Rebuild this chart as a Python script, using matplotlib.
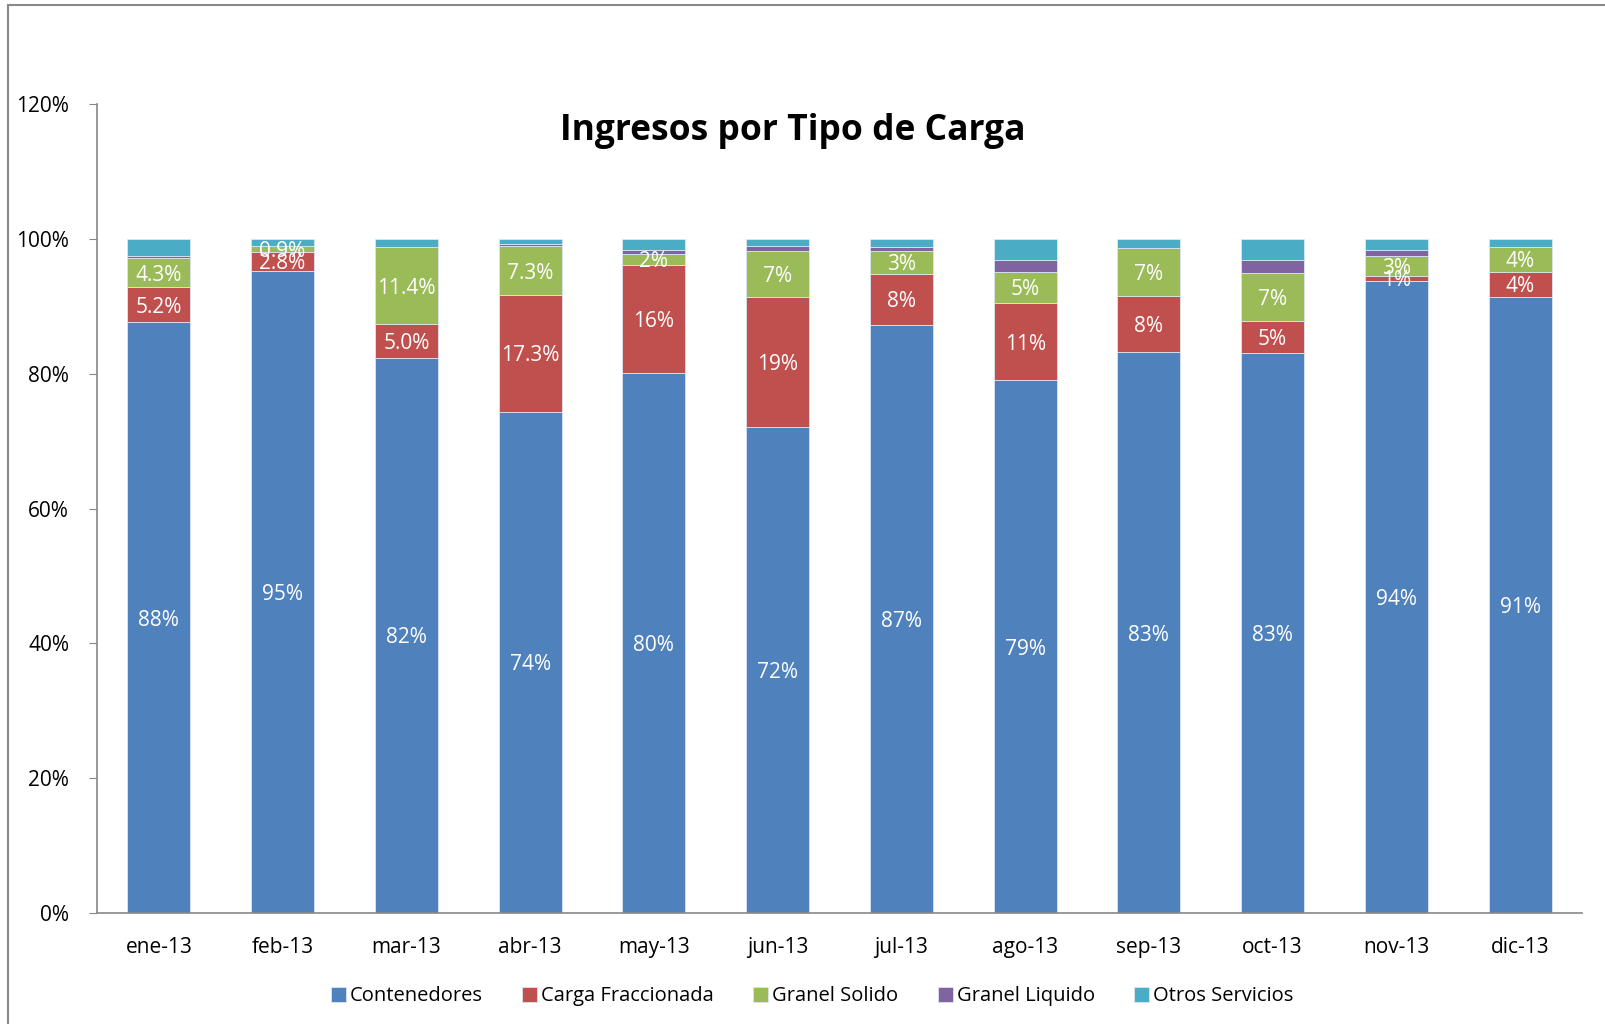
import matplotlib
matplotlib.use('Agg')
import matplotlib.pyplot as plt
import numpy as np

plt.rcParams['font.family'] = ['Open Sans', 'DejaVu Sans']

# Data (shares of revenue, %)
months = ['ene-13', 'feb-13', 'mar-13', 'abr-13', 'may-13', 'jun-13',
          'jul-13', 'ago-13', 'sep-13', 'oct-13', 'nov-13', 'dic-13']
contenedores = [87.7, 95.3, 82.4, 74.4, 80.2, 72.1, 87.3, 79.1, 83.2, 83.1, 93.8, 91.4]
carga_fracc = [5.2, 2.8, 5.0, 17.3, 16.0, 19.3, 7.6, 11.4, 8.4, 4.7, 0.8, 3.8]
granel_solido = [4.3, 0.9, 11.4, 7.3, 1.6, 6.9, 3.3, 4.7, 7.1, 7.2, 2.9, 3.6]
granel_liquido = [0.3, 0.05, 0.05, 0.3, 0.6, 0.7, 0.6, 1.7, 0.05, 1.9, 0.9, 0.05]
otros = [2.5, 0.95, 1.15, 0.7, 1.6, 1.0, 1.2, 3.1, 1.25, 3.1, 1.6, 1.15]
# decimals shown in the labels of the red/green segments
decimals = [1, 1, 1, 1, 0, 0, 0, 0, 0, 0, 0, 0]

series = [
    ('Contenedores', contenedores, '#4F81BD'),
    ('Carga Fraccionada', carga_fracc, '#C0504D'),
    ('Granel Solido', granel_solido, '#9BBB59'),
    ('Granel Liquido', granel_liquido, '#8064A2'),
    ('Otros Servicios', otros, '#4BACC6'),
]

fig = plt.figure(figsize=(16.05, 10.24), dpi=100)
ax = fig.add_axes([0.0604, 0.1084, 0.9253, 0.7896])

# outer chart border
fig.patches.append(plt.Rectangle((0.005, -0.01), 1.2, 1.005, transform=fig.transFigure,
                                 fill=False, edgecolor='#888888', linewidth=1.5))

x = np.arange(len(months))
bottom = np.zeros(len(months))
for i, (name, vals, color) in enumerate(series):
    vals = np.array(vals)
    ax.bar(x, vals, 0.51, bottom=bottom, color=color, label=name,
           edgecolor='#dbe5f1', linewidth=0.6)
    if i < 3:
        for j, v in enumerate(vals):
            if i == 0:
                txt = f'{v:.0f}%'
            else:
                txt = f'{v:.{decimals[j]}f}%'
            ax.text(x[j], bottom[j] + v / 2, txt, ha='center', va='center_baseline',
                    color='white', fontsize=15)
    bottom += vals

ax.set_xlim(-0.5, len(months) - 0.5)
ax.set_ylim(0, 120)
ax.set_yticks(np.arange(0, 121, 20))
ax.set_yticklabels([f'{v}%' for v in range(0, 121, 20)], fontsize=15)
ax.set_xticks(x)
ax.set_xticklabels(months, fontsize=15)
ax.tick_params(axis='x', length=0, pad=17)
ax.tick_params(axis='y', length=6, color='#888888', pad=14)

for s in ['top', 'right']:
    ax.spines[s].set_visible(False)
ax.spines['left'].set_color('#888888')
ax.spines['bottom'].set_color('#888888')
ax.spines['left'].set_linewidth(1.2)
ax.spines['bottom'].set_linewidth(1.2)

fig.text(0.494, 0.872, 'Ingresos por Tipo de Carga', ha='center', va='center',
         fontsize=25.5, fontweight='bold')

fig.legend(loc='center', bbox_to_anchor=(0.506, 0.027), ncol=5, frameon=False,
           fontsize=14.5, handlelength=0.75, handleheight=0.75, handletextpad=0.2,
           columnspacing=1.95)

fig.savefig('out.png', dpi=100)
